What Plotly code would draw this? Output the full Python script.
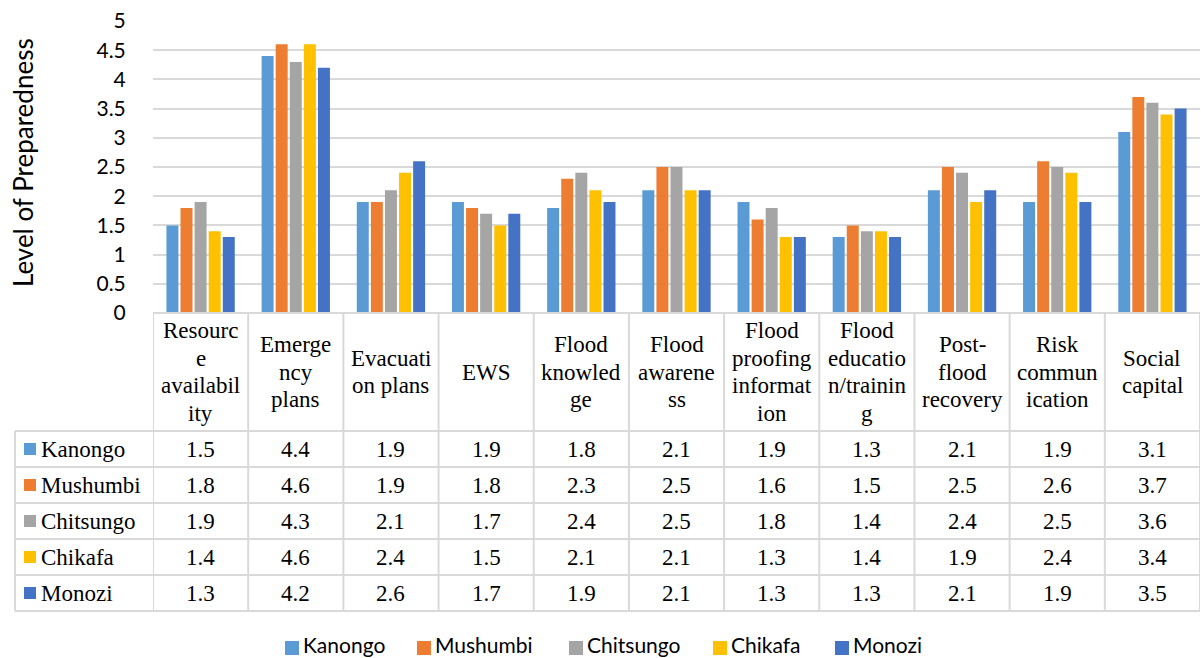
import plotly.graph_objects as go

# Preparedness indicators (columns) and the wrapped text shown in the table header
categories = ["Resource availability", "Emergency plans", "Evacuation plans", "EWS",
              "Flood knowledge", "Flood awareness", "Flood proofing information",
              "Flood education/training", "Post-flood recovery", "Risk communication",
              "Social capital"]
header_labels = [["Resourc", "e", "availabil", "ity"], ["Emerge", "ncy", "plans"],
                 ["Evacuati", "on plans"], ["EWS"], ["Flood", "knowled", "ge"],
                 ["Flood", "awarene", "ss"], ["Flood", "proofing", "informat", "ion"],
                 ["Flood", "educatio", "n/trainin", "g"], ["Post-", "flood", "recovery"],
                 ["Risk", "commun", "ication"], ["Social", "capital"]]

communities = ["Kanongo", "Mushumbi", "Chitsungo", "Chikafa", "Monozi"]
kanongo   = [1.5, 4.4, 1.9, 1.9, 1.8, 2.1, 1.9, 1.3, 2.1, 1.9, 3.1]
mushumbi  = [1.8, 4.6, 1.9, 1.8, 2.3, 2.5, 1.6, 1.5, 2.5, 2.6, 3.7]
chitsungo = [1.9, 4.3, 2.1, 1.7, 2.4, 2.5, 1.8, 1.4, 2.4, 2.5, 3.6]
chikafa   = [1.4, 4.6, 2.4, 1.5, 2.1, 2.1, 1.3, 1.4, 1.9, 2.4, 3.4]
monozi    = [1.3, 4.2, 2.6, 1.7, 1.9, 2.1, 1.3, 1.3, 2.1, 1.9, 3.5]
series = [kanongo, mushumbi, chitsungo, chikafa, monozi]
colors = ["#5B9BD5", "#ED7D31", "#A5A5A5", "#FFC000", "#4472C4"]

y_ticks = [0, 0.5, 1, 1.5, 2, 2.5, 3, 3.5, 4, 4.5, 5]

W, H = 1201, 658


def xp(px):
    return px / W


def yp(py):
    return 1 - py / H


PLOT_L, PLOT_R, PLOT_T, PLOT_B = 153, 1200, 21, 313
HEADER_B = 431
ROW_H = 36
HEADER_LINE = 27.7
TABLE_L = 15
GRID = "#D9D9D9"
SERIF = "Liberation Serif"
SANS = "Lato"
TABLE_FONT = 23

# Bottom legend layout: key square left edges (px) and vertical centre
LEGEND_KEYS = [285, 417, 569, 713, 835]
LEGEND_Y = 648

fig = go.Figure()
for name, vals, col in zip(communities, series, colors):
    fig.add_trace(go.Bar(x=list(range(len(categories))), y=vals, name=name,
                         marker=dict(color=col, line=dict(width=0)), showlegend=False))

shapes = []
annotations = []

# Table grid: vertical column borders follow the category axis
n = len(categories)
TABLE_B = HEADER_B + ROW_H * len(communities)
for i in range(n + 1):
    shapes.append(dict(type="line", xref="x", yref="paper", x0=i - 0.5, x1=i - 0.5,
                       y0=yp(PLOT_B), y1=yp(TABLE_B), line=dict(color=GRID, width=2)))
shapes.append(dict(type="line", xref="paper", yref="paper", x0=xp(TABLE_L), x1=xp(TABLE_L),
                   y0=yp(HEADER_B), y1=yp(TABLE_B), line=dict(color=GRID, width=2)))
shapes.append(dict(type="line", xref="x", yref="paper", x0=-0.5, x1=n - 0.5,
                   y0=yp(PLOT_B), y1=yp(PLOT_B), line=dict(color=GRID, width=2)))
for r in range(len(communities) + 1):
    yy = yp(HEADER_B + ROW_H * r)
    shapes.append(dict(type="line", xref="paper", yref="paper", x0=xp(TABLE_L), x1=xp(PLOT_R),
                       y0=yy, y1=yy, line=dict(color=GRID, width=2)))

# Header cells, one annotation per wrapped line
header_mid = (PLOT_B + HEADER_B) / 2
for i, lines in enumerate(header_labels):
    first = header_mid - HEADER_LINE * (len(lines) - 1) / 2
    for k, line in enumerate(lines):
        annotations.append(dict(xref="x", yref="paper", x=i, y=yp(first + k * HEADER_LINE),
                                text=line, showarrow=False, xanchor="center",
                                yanchor="middle",
                                font=dict(family=SERIF, size=TABLE_FONT, color="#000")))

# Data rows: legend key, community name, values
for r, (name, vals, col) in enumerate(zip(communities, series, colors)):
    cy = HEADER_B + ROW_H * r + ROW_H / 2
    shapes.append(dict(type="rect", xref="paper", yref="paper",
                       x0=xp(24), x1=xp(36), y0=yp(cy - 6), y1=yp(cy + 6),
                       fillcolor=col, line=dict(width=0)))
    annotations.append(dict(xref="paper", yref="paper", x=xp(39), y=yp(cy), text=name,
                            showarrow=False, xanchor="left", yanchor="middle",
                            font=dict(family=SERIF, size=TABLE_FONT, color="#000")))
    for i, v in enumerate(vals):
        annotations.append(dict(xref="x", yref="paper", x=i, y=yp(cy), text=f"{v:.1f}",
                                showarrow=False, xanchor="center", yanchor="middle",
                                font=dict(family=SERIF, size=TABLE_FONT, color="#000")))

# Bottom legend
for name, col, kx in zip(communities, colors, LEGEND_KEYS):
    shapes.append(dict(type="rect", xref="paper", yref="paper",
                       x0=xp(kx), x1=xp(kx + 14), y0=yp(LEGEND_Y - 7), y1=yp(LEGEND_Y + 7),
                       fillcolor=col, line=dict(width=0)))
    annotations.append(dict(xref="paper", yref="paper", x=xp(kx + 17), y=0,
                            text=name, showarrow=False, xanchor="left", yanchor="bottom",
                            borderpad=0,
                            font=dict(family=SANS, size=21, color="#000")))

# Y axis title
annotations.append(dict(xref="paper", yref="paper", x=xp(23), y=yp(163),
                        text="Level of Preparedness", textangle=-90, showarrow=False,
                        xanchor="center", yanchor="middle",
                        font=dict(family=SANS, size=26, color="#000")))

fig.update_layout(
    width=W, height=H,
    margin=dict(l=0, r=0, t=0, b=0, autoexpand=False),
    paper_bgcolor="white", plot_bgcolor="white",
    barmode="group", bargap=0.26, bargroupgap=0.15,
    shapes=shapes, annotations=annotations,
    showlegend=False,
    xaxis=dict(domain=[xp(PLOT_L), xp(PLOT_R)], range=[-0.5, n - 0.5],
               showticklabels=False, showgrid=False, zeroline=False, showline=False,
               fixedrange=True, automargin=False),
    yaxis=dict(domain=[yp(PLOT_B), yp(PLOT_T)], range=[0, 5], tickvals=y_ticks,
               ticktext=[f"{t:g}" for t in y_ticks], showgrid=True, gridcolor=GRID,
               gridwidth=1.5, zeroline=False, showline=False, ticks="outside", ticklen=22,
               tickcolor="rgba(0,0,0,0)", tickfont=dict(family=SANS, size=21, color="#000"),
               fixedrange=True, automargin=False),
)

fig.write_html("out.html")
